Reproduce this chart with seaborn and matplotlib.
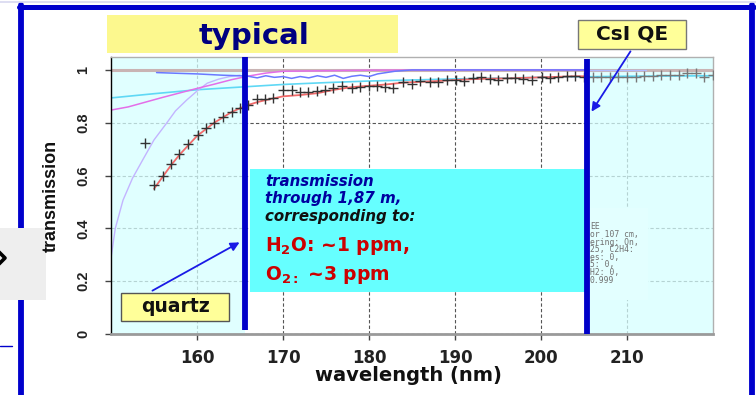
import numpy as np
import pandas as pd
import matplotlib
matplotlib.use("Agg")
import matplotlib.pyplot as plt
from matplotlib.patches import Rectangle
from matplotlib.lines import Line2D
import seaborn as sns

# ---------------- data ----------------
wl_meas = [153.95, 155, 156, 157, 157.9, 159, 160.1, 161, 162, 163, 164.1, 165, 165.9,
           167, 167.9, 168.8, 170, 171, 172, 172.9, 174, 174.9, 175.8, 176.9, 178, 179,
           180, 180.9, 181.9, 182.8, 184, 185, 185.9, 187.1, 188, 189.1, 190.1, 191,
           192.1, 193, 194.1, 195, 196, 197, 197.9, 199, 200.1, 201, 202, 203, 204, 205,
           206, 207, 208, 209, 210, 211, 212, 213, 214, 215, 216, 217, 218, 219, 220]
tr_meas = [0.724, 0.564, 0.60, 0.644, 0.68, 0.72, 0.754, 0.78, 0.80, 0.82, 0.84, 0.855, 0.867,
           0.89, 0.89, 0.895, 0.924, 0.924, 0.917, 0.917, 0.92, 0.924, 0.93, 0.94, 0.93, 0.935,
           0.94, 0.94, 0.935, 0.93, 0.955, 0.947, 0.958, 0.955, 0.955, 0.962, 0.962, 0.96,
           0.97, 0.973, 0.966, 0.962, 0.97, 0.97, 0.966, 0.962, 0.973, 0.97, 0.973, 0.977, 0.977, 0.975,
           0.973, 0.973, 0.973, 0.973, 0.973, 0.975, 0.977, 0.977, 0.98, 0.98, 0.98, 0.99, 0.99, 0.975, 0.98]

wl_fit = [155, 156, 157, 158, 159, 160, 161, 162, 163, 164, 165, 166, 167, 168, 169, 170, 172,
          174, 176, 178, 180, 182, 184, 186, 188, 190, 192, 194, 196, 198, 200, 202, 204, 205.3]
tr_fit = [0.55, 0.595, 0.64, 0.68, 0.715, 0.75, 0.775, 0.80, 0.82, 0.84, 0.855, 0.868, 0.878,
          0.886, 0.893, 0.90, 0.905, 0.912, 0.925, 0.935, 0.94, 0.945, 0.952, 0.955, 0.958,
          0.962, 0.965, 0.967, 0.968, 0.97, 0.972, 0.974, 0.976, 0.976]

wl_cyan = [150, 155, 160, 165, 170, 175, 180, 185, 190, 195, 200, 205, 210, 215, 220]
tr_cyan = [0.894, 0.91, 0.925, 0.935, 0.945, 0.952, 0.958, 0.962, 0.966, 0.969, 0.972, 0.974, 0.976, 0.977, 0.978]

wl_mag = [150, 152, 154, 156, 158, 160, 162, 164, 166, 168, 170, 175, 180, 190, 205.3]
tr_mag = [0.848, 0.86, 0.878, 0.896, 0.913, 0.93, 0.946, 0.963, 0.977, 0.988, 0.995, 0.997, 0.999, 1.0, 1.0]

wl_lav = [150, 150.5, 151.4, 152.5, 153.7, 155, 156.5, 157.5, 158.8, 160, 161.2, 162.5, 163.8, 165]
tr_lav = [0.288, 0.40, 0.507, 0.59, 0.66, 0.735, 0.80, 0.845, 0.886, 0.92, 0.95, 0.965, 0.975, 0.98]

wl_blue = [155.3, 158, 160, 163, 165.8, 167, 168, 169, 170, 171, 172, 173, 174, 175, 176, 177,
           178, 179, 180, 181, 182, 183, 185, 190, 195, 200, 205.3]
tr_blue = [0.99, 0.987, 0.985, 0.98, 0.977, 0.97, 0.978, 0.972, 0.975, 0.968, 0.975, 0.97, 0.978,
           0.972, 0.98, 0.968, 0.976, 0.98, 0.975, 0.985, 0.99, 0.995, 1.0, 1.0, 1.0, 1.0, 1.0]
wl_blue_ext = [205.3, 212.2]
tr_blue_ext = [1.0, 1.0]

wl_unity = [150, 220]
tr_unity = [1.0, 1.0]

x_ticks = [160, 170, 180, 190, 200, 210]
y_ticks = [0, 0.2, 0.4, 0.6, 0.8, 1.0]
y_ticklabels = ["0", "0.2", "0.4", "0.6", "0.8", "1"]

# ---------------- figure ----------------
sns.set_theme(style="white")
plt.rcParams["font.family"] = ["DejaVu Sans"]
plt.rcParams["mathtext.fontset"] = "dejavusans"

W, H = 756, 395
fig = plt.figure(figsize=(W / 100, H / 100), dpi=100)
fig.patch.set_facecolor("white")


def fx(x):
    return x / W


def fy(y):
    return 1 - y / H


ax_l, ax_r, ax_t, ax_b = 111, 713, 57, 334
ax = fig.add_axes([fx(ax_l), fy(ax_b), (ax_r - ax_l) / W, (ax_b - ax_t) / H])
ax.set_facecolor("white")
ax.set_xlim(150, 220)
ax.set_ylim(0, 1.049)

# grid
ax.set_axisbelow(True)
ax.grid(True, color="#555555", linestyle=(0, (3, 2)), linewidth=0.8)

# shaded regions
ax.axvspan(150, 165.6, facecolor="#d6ffff", alpha=0.75, zorder=1, lw=0)
ax.axvspan(205.3, 220, facecolor="#d6ffff", alpha=0.75, zorder=1, lw=0)
ax.add_patch(Rectangle((205.4, 0.13), 7.0, 0.347, facecolor="#e3ffff", lw=0, zorder=1.5))

# curves
df_unity = pd.DataFrame({"wl": wl_unity, "tr": tr_unity})
sns.lineplot(data=df_unity, x="wl", y="tr", color="#c9b4b4", lw=2.2, ax=ax, zorder=2)
sns.lineplot(x=wl_cyan, y=tr_cyan, color="#5fd8f5", lw=1.2, ax=ax, zorder=2.2)
sns.lineplot(x=wl_lav, y=tr_lav, color="#c3b4ff", lw=1.0, ax=ax, zorder=2.2)
sns.lineplot(x=wl_mag, y=tr_mag, color="#e46ee8", lw=1.1, ax=ax, zorder=2.3)
sns.lineplot(x=wl_blue, y=tr_blue, color="#6a78ff", lw=1.1, ax=ax, zorder=2.4)
sns.lineplot(x=wl_blue_ext, y=tr_blue_ext, color="#b4bcff", lw=1.0, ax=ax, zorder=2.4)
sns.lineplot(x=wl_fit, y=tr_fit, color="#f26a6a", lw=1.3, ax=ax, zorder=2.5)

df_meas = pd.DataFrame({"wl": wl_meas, "tr": tr_meas})
inner = df_meas[df_meas.wl <= 205.3]
outer = df_meas[df_meas.wl > 205.3]
sns.scatterplot(data=inner, x="wl", y="tr", marker="+", s=55, color="#333333",
                linewidth=1.0, ax=ax, zorder=3)
sns.scatterplot(data=outer, x="wl", y="tr", marker="+", s=55, color="#777777",
                linewidth=1.0, ax=ax, zorder=3)

# thick vertical markers
ax.vlines([165.6], 0.015, 1.049, colors="#0000c8", lw=4.2, zorder=5)
ax.vlines([205.3], 0.0, 1.04, colors="#0000c8", lw=4.2, zorder=5)

# cyan text box
ax.add_patch(Rectangle((166.2, 0.159), 39.1, 0.466, facecolor="#66ffff", lw=0, zorder=4))

# axes styling
ax.set_xticks(x_ticks)
ax.set_yticks(y_ticks)
ax.set_yticklabels(y_ticklabels)
ax.tick_params(axis="x", direction="out", length=4, width=1, color="#444444", pad=7,
               labelsize=12, bottom=True)
ax.tick_params(axis="y", direction="out", length=4, width=1, color="#444444", pad=11,
               labelsize=10.5, left=True, labelrotation=90)
for lab in ax.get_xticklabels():
    lab.set_fontweight("bold")
    lab.set_color("#222222")
for lab in ax.get_yticklabels():
    lab.set_fontfamily(["Liberation Sans", "DejaVu Sans"])
    lab.set_fontweight("bold")
    lab.set_va("center")
    lab.set_color("#222222")

for s in ["top", "right"]:
    ax.spines[s].set_color("#b0b0b0")
    ax.spines[s].set_linewidth(1.0)
ax.spines["left"].set_color("black")
ax.spines["left"].set_linewidth(1.0)
ax.spines["bottom"].set_color("#9a9a9a")
ax.spines["bottom"].set_linewidth(2.0)

ax.set_xlabel("wavelength (nm)", fontsize=14, fontweight="bold", color="#111111", va="top")
ax.xaxis.set_label_coords((408 - ax_l) / (ax_r - ax_l), (ax_b - 366) / (ax_b - ax_t))
ax.set_ylabel("transmission", fontsize=13, fontweight="bold", color="#111111",
              family=["Liberation Sans", "DejaVu Sans"])
ax.yaxis.set_label_coords((60 - ax_l) / (ax_r - ax_l), (ax_b - 196) / (ax_b - ax_t))

# text inside cyan box
tx = 265
fs_box = 10.8
ax.text(fx(tx), fy(181), "transmission", transform=fig.transFigure, fontsize=fs_box,
        fontweight="bold", style="italic", color="#0000a0", va="center", zorder=6)
ax.text(fx(tx), fy(198.5), "through 1,87 m,", transform=fig.transFigure, fontsize=fs_box,
        fontweight="bold", style="italic", color="#0000a0", va="center", zorder=6)
ax.text(fx(tx), fy(216), "corresponding to:", transform=fig.transFigure, fontsize=fs_box,
        fontweight="bold", style="italic", color="#111111", va="center", zorder=6)
ax.text(fx(tx), fy(246), r"H$_\mathbf{2}$O: ~1 ppm,", transform=fig.transFigure, fontsize=13.5,
        fontweight="bold", color="#cc0000", va="center", zorder=6)
ax.text(fx(tx), fy(275), r"O$_\mathbf{2:}$ ~3 ppm", transform=fig.transFigure, fontsize=13.5,
        fontweight="bold", color="#cc0000", va="center", zorder=6)

# tiny clipped info text in right region
info = ["EE", "or 107 cm,", "ering: On,", "25, C2H4:", "es: 0,", "5: 0,", "H2: 0,", "0.999"]
for i, line in enumerate(info):
    fig.text(fx(590), fy(227 + i * 7.6), line, fontsize=5.8, family="DejaVu Sans Mono",
             color="#707070", va="center")

# ---------------- slide decorations (figure pixels) ----------------
def frect(x0, y0, x1, y1, **kw):
    fig.add_artist(Rectangle((fx(x0), fy(y1)), (x1 - x0) / W, (y1 - y0) / H,
                             transform=fig.transFigure, **kw))


# outer blue frame (behind the axes labels)
fig.add_artist(Line2D([fx(21), fx(21)], [fy(5), fy(395)], color="#0000cc", lw=4.2,
                      transform=fig.transFigure, zorder=-3))
fig.add_artist(Line2D([fx(19), fx(754)], [fy(7), fy(7)], color="#0000cc", lw=3.6,
                      transform=fig.transFigure, zorder=-3))
fig.add_artist(Line2D([fx(752), fx(752)], [fy(5), fy(395)], color="#0000cc", lw=4.2,
                      transform=fig.transFigure, zorder=-3))
fig.add_artist(Line2D([fx(0), fx(756)], [fy(1.5), fy(1.5)], color="#d8d8f0", lw=1.2,
                      transform=fig.transFigure, zorder=-3))

# left gray nav box with chevron (below axis label)
frect(0, 228, 46, 300, facecolor="#eeeeee", lw=0, zorder=-2)
fig.add_artist(Line2D([fx(-3), fx(5), fx(-3)], [fy(250), fy(258), fy(266)], color="black",
                      lw=2.6, transform=fig.transFigure, zorder=-1))
fig.add_artist(Line2D([fx(0), fx(12)], [fy(346), fy(346)], color="#0000cc", lw=1.0,
                      transform=fig.transFigure, zorder=-1))

# title box
frect(107, 15, 398, 53, facecolor="#fcf88e", lw=0, zorder=10)
fig.text(fx(254), fy(35.5), "typical", fontsize=21, fontweight="bold", color="#000080",
         ha="center", va="center", zorder=11)

# CsI QE box
frect(578, 20, 686, 49, facecolor="#ffff99", edgecolor="#777777", lw=1.0, zorder=10)
fig.text(fx(632), fy(34.5), "CsI QE", fontsize=14.5, fontweight="bold", color="#111111",
         ha="center", va="center", zorder=11)

# quartz box
frect(121, 293, 229, 321, facecolor="#ffff99", edgecolor="#555555", lw=1.0, zorder=10)
fig.text(fx(176), fy(306), "quartz", fontsize=13.5, fontweight="bold", color="#111111",
         ha="center", va="center", zorder=11)

# arrows
ax.annotate("", xy=(fx(242), fy(241)), xycoords="figure fraction",
            xytext=(fx(150), fy(292)), textcoords="figure fraction",
            arrowprops=dict(arrowstyle="-|>", color="#1a1ae6", lw=1.3, mutation_scale=13),
            zorder=12)
ax.annotate("", xy=(fx(590), fy(114)), xycoords="figure fraction",
            xytext=(fx(632), fy(49)), textcoords="figure fraction",
            arrowprops=dict(arrowstyle="-|>", color="#1a1ae6", lw=1.3, mutation_scale=13),
            zorder=12)

fig.savefig("out.png", dpi=100, facecolor="white")
